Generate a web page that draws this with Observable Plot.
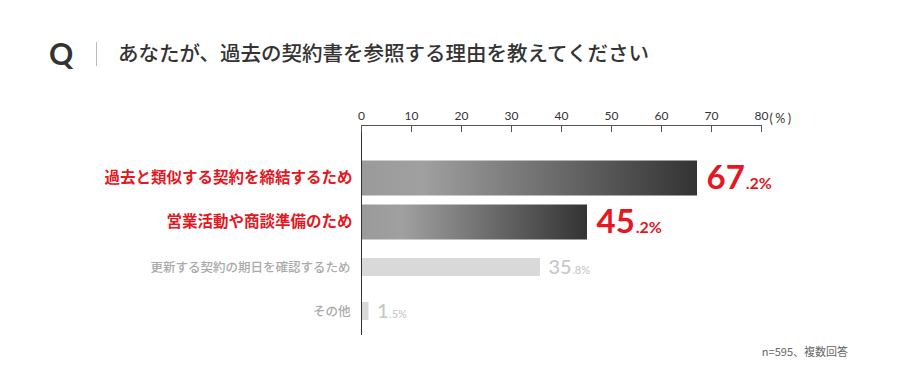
<!DOCTYPE html>
<html><head><meta charset="utf-8">
<script src="https://cdn.jsdelivr.net/npm/d3@7"></script>
<script src="https://cdn.jsdelivr.net/npm/@observablehq/plot@0.6"></script>
<style>
body{margin:0;background:#fff;width:900px;height:392px;position:relative;overflow:hidden;font-family:"Noto Sans CJK JP",sans-serif}
#q{position:absolute;left:49px;top:35px;font:700 30px Lato,sans-serif;color:#333;line-height:36px}
#sep{position:absolute;left:96px;top:42px;width:1px;height:24px;background:#bbb}
#title{position:absolute;left:118px;top:37px;font-size:20.5px;font-weight:500;color:#333;line-height:30px;white-space:nowrap}
#chart{position:absolute;left:0;top:95px}
#cap{position:absolute;right:52px;top:343px;font-size:11px;color:#666;line-height:16px}
</style></head><body>
<div id="q">Q</div><div id="sep"></div>
<div id="title">あなたが、過去の契約書を参照する理由を教えてください</div>
<div id="chart"></div>
<div id="cap"></div>
<script>
const categories = ["過去と類似する契約を締結するため", "営業活動や商談準備のため", "更新する契約の期日を確認するため", "その他"];
const values = [67.2, 45.2, 35.8, 1.5];
const emphasis = ["high", "high", "low", "low"];
const xTicks = [0, 10, 20, 30, 40, 50, 60, 70, 80];
const unitLabel = "(%)";
const caption = "n=595、複数回答";
document.getElementById("cap").textContent = caption;

const rows = categories.map((c, i) => ({category: c, value: values[i], group: emphasis[i]}));
const hi = rows.filter(d => d.group === "high");
const lo = rows.filter(d => d.group === "low");
const RED = "#e5171f";
const JP = "'Noto Sans CJK JP', sans-serif";
const NUM = "Lato, 'Noto Sans CJK JP', sans-serif";
const fmt = d => d.value.toFixed(1) + "%";

const chart = Plot.plot({
  width: 900, height: 250,
  marginLeft: 361, marginRight: 139, marginTop: 30, marginBottom: 10,
  style: {fontFamily: NUM, background: "transparent"},
  x: {domain: [0, 80], axis: null},
  y: {type: "band", domain: categories, range: [56.5, 232.5], padding: 0, axis: null},
  marks: [
    Plot.barX(hi, {x: "value", y: "category", fill: "url(#barGrad)", insetTop: 4.5, insetBottom: 4.5, dy: 4}),
    Plot.barX(lo, {x: "value", y: "category", fill: "#d9d9d9", insetTop: 13, insetBottom: 13, dy: 5}),
    Plot.text(hi, {x: 0, y: "category", text: "category", textAnchor: "end", dx: -9, dy: 4, fill: RED, fontSize: 15.5, fontWeight: 700, fontFamily: JP}),
    Plot.text(lo, {x: 0, y: "category", text: "category", textAnchor: "end", dx: -11, dy: 5, fill: "#aaa", fontSize: 12.5, fontWeight: 500, fontFamily: JP}),
    Plot.text(hi, {x: "value", y: "category", text: fmt, textAnchor: "start", dx: 9, dy: 4, fill: RED, fontSize: 33, fontWeight: 700}),
    Plot.text(lo, {x: "value", y: "category", text: fmt, textAnchor: "start", dx: 8, dy: 5, fill: "#c8c8c8", fontSize: 20, fontWeight: 500}),
    Plot.ruleX([0], {stroke: "#333"}),
    Plot.frame({anchor: "top", stroke: "#555"}),
    Plot.tickX(xTicks, {x: d => d, insetBottom: 203, stroke: "#555"}),
    Plot.axisX(xTicks, {anchor: "top", tickSize: 0, tickPadding: 6, fontSize: 12, fill: "#333", label: null}),
    Plot.text([unitLabel], {x: xTicks[xTicks.length - 1], text: d => d, frameAnchor: "top", dy: -11, dx: 8, textAnchor: "start", fontSize: 12.5, fill: "#333"})
  ]
});

const svg = d3.select(chart);
const g = svg.insert("defs", ":first-child").append("linearGradient").attr("id", "barGrad").attr("x1", 0).attr("x2", 1).attr("y1", 0).attr("y2", 0);
g.append("stop").attr("offset", 0).attr("stop-color", "#9a9a9a");
g.append("stop").attr("offset", 0.18).attr("stop-color", "#a0a0a0");
g.append("stop").attr("offset", 1).attr("stop-color", "#333333");

// unit label letter spacing
svg.selectAll("text").filter(function() { return this.textContent === unitLabel; }).attr("letter-spacing", 2.5);

// split value labels into large integer part and small decimal part
svg.selectAll("text").each(function() {
  const t = this.textContent;
  if (!/^\d+\.\d%$/.test(t)) return;
  let p = this, fs = null;
  while (p && p !== chart && !fs) { fs = p.getAttribute && p.getAttribute("font-size"); p = p.parentNode; }
  const big = parseFloat(fs) > 25;
  const k = t.indexOf(".");
  while (this.firstChild) this.removeChild(this.firstChild);
  const a = document.createElementNS("http://www.w3.org/2000/svg", "tspan");
  a.textContent = t.slice(0, k);
  const b = document.createElementNS("http://www.w3.org/2000/svg", "tspan");
  b.textContent = t.slice(k);
  b.setAttribute("font-size", big ? 16 : 11);
  b.setAttribute("dx", big ? 1 : 0.5);
  this.appendChild(a); this.appendChild(b);
});

document.getElementById("chart").appendChild(chart);
</script>
</body></html>
